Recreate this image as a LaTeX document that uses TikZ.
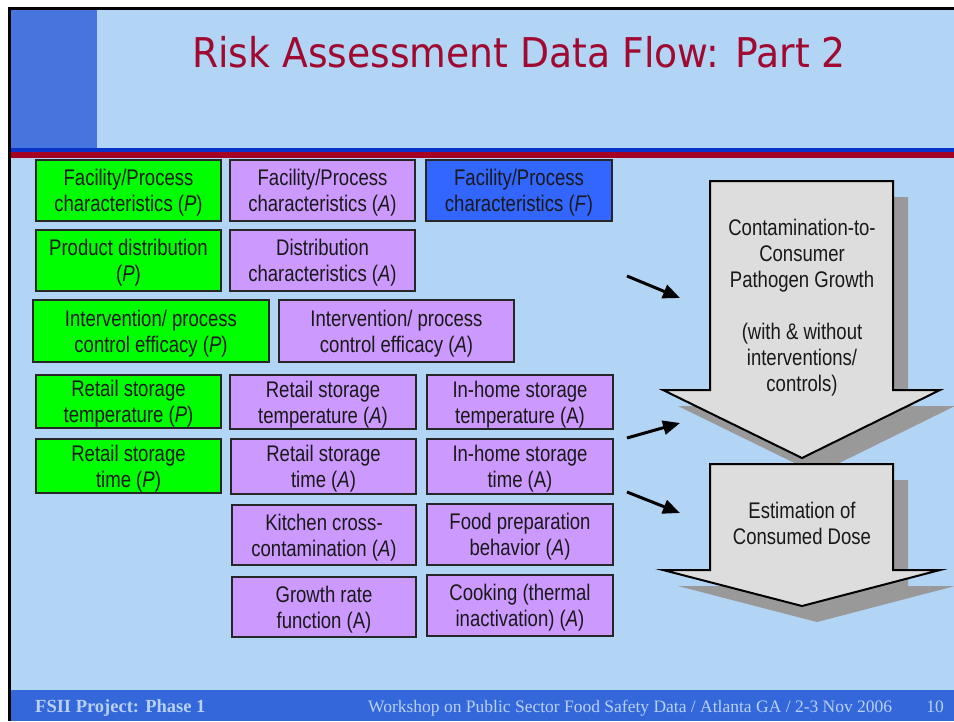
\documentclass[tikz,border=0pt]{standalone}
\usepackage{fontspec}
\usetikzlibrary{arrows.meta}
\newfontfamily\boxfont[FakeStretch=0.82]{Liberation Sans}
\newfontfamily\titlefont[FakeStretch=0.92]{DejaVu Sans}
\newfontfamily\footfont{Liberation Serif}
\definecolor{slidebg}{HTML}{B2D4F5}
\definecolor{leftblock}{HTML}{4575DD}
\definecolor{ruleblue}{HTML}{0A33C8}
\definecolor{rulered}{HTML}{A40024}
\definecolor{footerblue}{HTML}{3468DA}
\definecolor{footertext}{HTML}{B8D0F2}
\definecolor{titlered}{HTML}{A00A30}
\definecolor{pgreen}{HTML}{00FF00}
\definecolor{apurple}{HTML}{CC99FF}
\definecolor{fblue}{HTML}{3366FF}
\definecolor{arrowgray}{HTML}{DDDDDD}
\definecolor{shadowgray}{HTML}{999999}
\tikzset{
  databoxstyle/.style={draw=black!85, line width=1.5pt, inner sep=0pt},
  databoxtext/.style={inner sep=0pt, align=center,
    font=\boxfont\fontsize{22.6}{26}\selectfont, text=black!90},
  bigarrow/.style={fill=arrowgray, draw=black, line width=2pt, line join=miter},
  arrowshadow/.style={fill=shadowgray},
  arrowlabel/.style={align=center, font=\boxfont\fontsize{22.6}{26}\selectfont, text=black!90},
  fatarrow/.style={line width=3pt, -{Triangle[length=17pt,width=14pt]}}
}
% \databox{name}{fill}{x1}{y1}{x2}{y2}{text}
\newcommand\databox[7]{%
  \node[databoxstyle, fill=#2, minimum width={#5-#3}, minimum height={#6-#4}]
    (#1) at ({(#3+#5)/2},{(#4+#6)/2}) {};
  \node[databoxtext] (#1-label) at ([yshift=-2.5pt]#1.center) {#7};}
\begin{document}
\begin{tikzpicture}[x=1pt,y=-1pt]
\useasboundingbox (0,0) rectangle (954,721);
% slide background and frame
\fill[white] (0,0) rectangle (954,721);
\fill[slidebg] (10,8) rectangle (954,721);
\fill[leftblock] (10,8) rectangle (97,148);
\fill[ruleblue] (10,148) rectangle (954,152);
\fill[rulered] (10,152) rectangle (954,157.5);
\fill[footerblue] (10,690) rectangle (954,721);
\draw[line width=2.5pt] (9.5,721) -- (9.5,8.5) -- (954,8.5);

% title
\node[anchor=base, text=titlered, font=\titlefont\fontsize{41}{48}\selectfont, inner sep=0pt]
  (title) at (519,67) {Risk Assessment Data Flow: Part 2};

% data boxes
\databox{facP}{pgreen}{36}{160}{221}{221}{Facility/Process\\characteristics (\textit{P})}
\databox{facA}{apurple}{230}{160}{415}{221}{Facility/Process\\characteristics (\textit{A})}
\databox{facF}{fblue}{426}{160}{612}{221}{Facility/Process\\characteristics (\textit{F})}
\databox{distP}{pgreen}{36}{230}{221}{291}{Product distribution\\(\textit{P})}
\databox{distA}{apurple}{230}{230}{415}{291}{Distribution\\characteristics (\textit{A})}
\databox{intP}{pgreen}{33}{300}{269}{362}{Intervention/ process\\control efficacy (\textit{P})}
\databox{intA}{apurple}{279}{300}{514}{362}{Intervention/ process\\control efficacy (\textit{A})}
\databox{rtempP}{pgreen}{36}{375}{221}{428}{Retail storage\\temperature (\textit{P})}
\databox{rtempA}{apurple}{230}{375}{416}{429}{Retail storage\\temperature (\textit{A})}
\databox{htemp}{apurple}{427}{375}{613}{429}{In-home storage\\temperature (A)}
\databox{rtimeP}{pgreen}{36}{439}{221}{493}{Retail storage\\time (\textit{P})}
\databox{rtimeA}{apurple}{231}{439}{416}{494}{Retail storage\\time (\textit{A})}
\databox{htime}{apurple}{427}{439}{613}{494}{In-home storage\\time (A)}
\databox{cross}{apurple}{232}{505}{416}{565}{Kitchen cross-\\contamination (\textit{A})}
\databox{prep}{apurple}{427}{504}{613}{565}{Food preparation\\behavior (\textit{A})}
\databox{growthrate}{apurple}{232}{577}{416}{637}{Growth rate\\function (A)}
\databox{cooking}{apurple}{427}{575}{613}{636}{Cooking (thermal\\inactivation) (\textit{A})}

% block arrows with drop shadows
\fill[arrowshadow, shift={(15,16)}] (710,181) -- (893,181) -- (893,390) -- (940,390) -- (802,458) -- (663,390) -- (710,390) -- cycle;
\filldraw[bigarrow] (710,181) -- (893,181) -- (893,390) -- (940,390) -- (802,458) -- (663,390) -- (710,390) -- cycle;
\node[arrowlabel] (growth) at (802,307.5)
  {Contamination-to-\\Consumer\\Pathogen Growth\\[26pt](with \& without\\interventions/\\controls)};

\fill[arrowshadow, shift={(15,16)}] (710,464) -- (893,464) -- (893,570) -- (940,570) -- (802,606) -- (663,570) -- (710,570) -- cycle;
\filldraw[bigarrow] (710,464) -- (893,464) -- (893,570) -- (940,570) -- (802,606) -- (663,570) -- (710,570) -- cycle;
\node[arrowlabel] (dose) at (802,523.5) {Estimation of\\Consumed Dose};

% input arrows
\coordinate (in1s) at (627,276);
\coordinate (in1e) at (680,298);
\coordinate (in2s) at (627,438);
\coordinate (in2e) at (680,423);
\coordinate (in3s) at (627,492);
\coordinate (in3e) at (680,513);
\draw[fatarrow] (in1s) -- (in1e);
\draw[fatarrow] (in2s) -- (in2e);
\draw[fatarrow] (in3s) -- (in3e);

% footer
\node[anchor=base west, inner sep=0pt, text=footertext, font=\footfont\bfseries\fontsize{18.5}{21}\selectfont]
  (project) at (35,712) {FSII Project: Phase 1};
\node[anchor=base west, inner sep=0pt, text=footertext, font=\footfont\fontsize{17.5}{20}\selectfont]
  (workshop) at (368,712.5) {Workshop on Public Sector Food Safety Data / Atlanta GA / 2-3 Nov 2006};
\node[anchor=base east, inner sep=0pt, text=footertext, font=\footfont\fontsize{17.5}{20}\selectfont]
  (pagenum) at (944,712.5) {10};
\end{tikzpicture}
\end{document}
